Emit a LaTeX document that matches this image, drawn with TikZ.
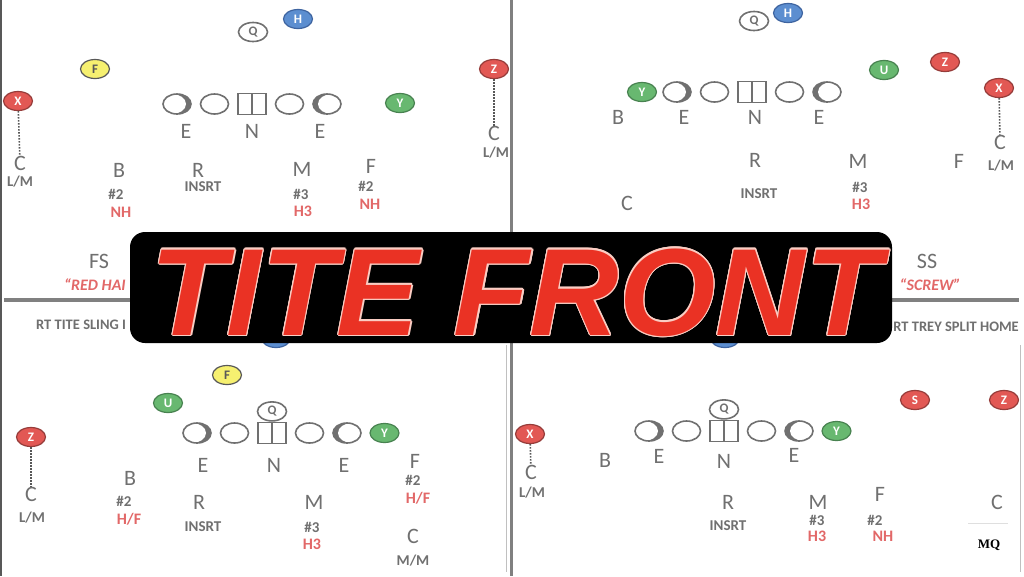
\documentclass[tikz,border=0pt]{standalone}
\usepackage{fontspec}
\setmainfont{Carlito}
\newfontfamily\bannerfont{Liberation Sans}
\newfontfamily\markfont{Liberation Serif}
\usepackage{contour}
\contourlength{1.1pt}
\usetikzlibrary{shapes, arrows}
\usetikzlibrary{positioning}

\definecolor{ink}{RGB}{112,112,112}
\definecolor{rim}{RGB}{88,88,88}
\definecolor{callred}{RGB}{226,104,104}
\definecolor{redfill}{RGB}{226,88,84}
\definecolor{redrim}{RGB}{150,60,58}
\definecolor{greenfill}{RGB}{104,184,112}
\definecolor{greenrim}{RGB}{72,130,80}
\definecolor{bluefill}{RGB}{92,142,208}
\definecolor{bluerim}{RGB}{62,100,160}
\definecolor{yellowfill}{RGB}{246,240,112}
\definecolor{titlered}{RGB}{234,50,36}
\definecolor{titleline}{RGB}{250,205,195}
\definecolor{divider}{RGB}{128,128,128}

\tikzstyle{player} = [ellipse, minimum width = 29, minimum height = 19,
  inner sep = 0, line width = 1.2, text = white,
  font = \bfseries\fontsize{13}{13}\selectfont]
\tikzstyle{pr} = [player, draw = redrim, fill = redfill]
\tikzstyle{pg} = [player, draw = greenrim, fill = greenfill]
\tikzstyle{pb} = [player, draw = bluerim, fill = bluefill]
\tikzstyle{py} = [player, draw = rim, fill = yellowfill, text = rim]
\tikzstyle{qb} = [player, draw = ink, line width = 1.6, text = ink]
\tikzstyle{oval} = [ellipse, draw = ink, line width = 1.6,
  minimum width = 28, minimum height = 20, inner sep = 0]
\tikzstyle{endr} = [oval, path picture = {
  \fill [ink] (path picture bounding box.south west) rectangle
    (path picture bounding box.north east);
  \fill [white] ([xshift = -5pt]path picture bounding box.center)
    ellipse (14pt and 10pt);}]
\tikzstyle{endl} = [oval, path picture = {
  \fill [ink] (path picture bounding box.south west) rectangle
    (path picture bounding box.north east);
  \fill [white] ([xshift = 5pt]path picture bounding box.center)
    ellipse (14pt and 10pt);}]
\tikzstyle{snap} = [rectangle, draw = ink, line width = 1.6,
  minimum width = 28, minimum height = 21, inner sep = 0,
  path picture = {\draw [ink, line width = 1.6]
    (path picture bounding box.north) -- (path picture bounding box.south);}]
\tikzstyle{big} = [text = ink, inner sep = 0,
  font = \fontsize{22}{22}\selectfont]
\tikzstyle{tag} = [text = ink, inner sep = 0,
  font = \bfseries\fontsize{15}{15}\selectfont]
\tikzstyle{call} = [text = callred, inner sep = 0,
  font = \bfseries\fontsize{16}{16}\selectfont]
\tikzstyle{motion} = [draw = rim, line width = 1.6,
  dash pattern = on 1.6 off 1.4]

\begin{document}
\begin{tikzpicture}[x = 1pt, y = -1pt, node distance = 37.5pt]
      \useasboundingbox [fill = white] (0, 0) rectangle (1024, 576);
      % frame
      \draw [rim, line width = 2] (1, 0) -- (1, 576);
      \draw [divider!50, line width = 1] (506, 345) -- (506, 572);
      \draw [divider!50, line width = 1] (1020, 345) -- (1020, 572);
      \draw [divider, line width = 3] (511, 0) -- (511, 576);
      \draw [divider, line width = 4] (4, 300) -- (1019, 300);

      % top left
      \node [qb] (tl-Q) at (253, 32) {Q};
      \node [pb] (tl-H) at (298, 19) {H};
      \node [py] (tl-F) at (95, 69) {F};
      \node [pr] (tl-X) at (18, 101) {X};
      \node [pr] (tl-Z) at (494, 69) {Z};
      \node [pg] (tl-Y) at (400, 103) {Y};
      \node [endr] (tl-lt) at (177, 104) {};
      \node [oval, right of = tl-lt] (tl-lg) {};
      \node [snap, right of = tl-lg] (tl-c) {};
      \node [oval, right of = tl-c] (tl-rg) {};
      \node [endl, right of = tl-rg] (tl-rt) {};
      \node [big] (tl-E1) at (186, 131) {E};
      \node [big] (tl-N) at (252, 131) {N};
      \node [big] (tl-E2) at (320, 131) {E};
      \node [big] (tl-Cx) at (20, 163) {C};
      \node [tag] (tl-Cx-t) at (20, 182) {L/M};
      \node [big] (tl-Cz) at (494, 133) {C};
      \node [tag] (tl-Cz-t) at (496, 153) {L/M};
      \node [big] (tl-B) at (119, 170) {B};
      \node [tag] (tl-B-n) at (116, 194) {\#2};
      \node [call] (tl-B-c) at (121, 212) {NH};
      \node [big] (tl-R) at (198, 170) {R};
      \node [tag] (tl-R-t) at (203, 187) {INSRT};
      \node [big] (tl-M) at (302, 169) {M};
      \node [tag] (tl-M-n) at (301, 194) {\#3};
      \node [call] (tl-M-c) at (303, 211) {H3};
      \node [big] (tl-Fb) at (371, 166) {F};
      \node [tag] (tl-Fb-n) at (366, 186) {\#2};
      \node [call] (tl-Fb-c) at (370, 204) {NH};
      \node [big] (tl-FS) at (99, 261) {FS};
      \node [call, anchor = west, font = \bfseries\itshape\fontsize{16}{16}\selectfont]
        (tl-call) at (64, 285) {``RED HAI};
      \draw [motion] (tl-X) -- (tl-Cx);
      \draw [motion] (tl-Z) -- (tl-Cz);

      % top right
      \node [qb] (tr-Q) at (754, 21) {Q};
      \node [pb] (tr-H) at (788, 13) {H};
      \node [pg] (tr-U) at (884, 70) {U};
      \node [pr] (tr-Z) at (945, 62) {Z};
      \node [pr] (tr-X) at (999, 88) {X};
      \node [pg] (tr-Y) at (642, 92) {Y};
      \node [endr] (tr-lt) at (677, 92) {};
      \node [oval, right of = tr-lt] (tr-lg) {};
      \node [snap, right of = tr-lg] (tr-c) {};
      \node [oval, right of = tr-c] (tr-rg) {};
      \node [endl, right of = tr-rg] (tr-rt) {};
      \node [big] (tr-B) at (618, 117) {B};
      \node [big] (tr-E1) at (684, 117) {E};
      \node [big] (tr-N) at (755, 117) {N};
      \node [big] (tr-E2) at (819, 117) {E};
      \node [big] (tr-R) at (755, 160) {R};
      \node [tag] (tr-R-t) at (759, 194) {INSRT};
      \node [big] (tr-M) at (858, 161) {M};
      \node [tag] (tr-M-n) at (860, 187) {\#3};
      \node [call] (tr-M-c) at (861, 204) {H3};
      \node [big] (tr-Fb) at (959, 161) {F};
      \node [big] (tr-Cx) at (1000, 142) {C};
      \node [tag] (tr-Cx-t) at (1001, 166) {L/M};
      \node [big] (tr-Cb) at (627, 203) {C};
      \node [big] (tr-SS) at (927, 261) {SS};
      \node [call, anchor = east, font = \bfseries\itshape\fontsize{16}{16}\selectfont]
        (tr-call) at (961, 285) {``SCREW''};
      \node [tag, anchor = east, font = \bfseries\fontsize{14.5}{14.5}\selectfont]
        (tr-name) at (1019, 327) {RT TREY SPLIT HOME};
      \draw [motion] (tr-X) -- (tr-Cx);

      % bottom left
      \node [pb] (bl-H) at (276, 338) {};
      \node [py] (bl-F) at (227, 375) {F};
      \node [pg] (bl-U) at (168, 403) {U};
      \node [pr] (bl-Z) at (31, 437) {Z};
      \node [endr] (bl-lt) at (197, 433) {};
      \node [oval, right of = bl-lt] (bl-lg) {};
      \node [snap, right of = bl-lg] (bl-c) {};
      \node [oval, right of = bl-c] (bl-rg) {};
      \node [endl, right of = bl-rg] (bl-rt) {};
      \node [pg, right of = bl-rt] (bl-Y) {Y};
      \node [qb, above = 0 of bl-c] (bl-Q) {Q};
      \node [big] (bl-E1) at (203, 465) {E};
      \node [big] (bl-N) at (274, 465) {N};
      \node [big] (bl-E2) at (344, 465) {E};
      \node [big] (bl-Fb) at (415, 461) {F};
      \node [tag] (bl-Fb-n) at (413, 480) {\#2};
      \node [call] (bl-Fb-c) at (418, 498) {H/F};
      \node [big] (bl-Cz) at (31, 494) {C};
      \node [tag] (bl-Cz-t) at (32, 518) {L/M};
      \node [big] (bl-B) at (130, 478) {B};
      \node [tag] (bl-B-n) at (124, 501) {\#2};
      \node [call] (bl-B-c) at (129, 519) {H/F};
      \node [big] (bl-R) at (199, 502) {R};
      \node [tag] (bl-R-t) at (203, 527) {INSRT};
      \node [big] (bl-M) at (314, 502) {M};
      \node [tag] (bl-M-n) at (312, 527) {\#3};
      \node [call] (bl-M-c) at (312, 544) {H3};
      \node [big] (bl-Cb) at (413, 536) {C};
      \node [tag] (bl-Cb-t) at (413, 561) {M/M};
      \node [tag, anchor = west, font = \bfseries\fontsize{14.5}{14.5}\selectfont]
        (bl-name) at (36, 325) {RT TITE SLING I};
      \draw [motion] (bl-Z) -- (bl-Cz);

      % bottom right
      \node [pb] (br-H) at (725, 338) {};
      \node [pr] (br-S) at (915, 400) {S};
      \node [pr] (br-Z) at (1004, 400) {Z};
      \node [pr] (br-X) at (530, 434) {X};
      \node [endr] (br-lt) at (649, 431) {};
      \node [oval, right of = br-lt] (br-lg) {};
      \node [snap, right of = br-lg] (br-c) {};
      \node [oval, right of = br-c] (br-rg) {};
      \node [endl, right of = br-rg] (br-rt) {};
      \node [pg, right of = br-rt] (br-Y) {Y};
      \node [qb, above = 0 of br-c] (br-Q) {Q};
      \node [big] (br-B) at (605, 460) {B};
      \node [big] (br-E1) at (659, 456) {E};
      \node [big] (br-N) at (724, 461) {N};
      \node [big] (br-E2) at (794, 455) {E};
      \node [big] (br-Cx) at (531, 472) {C};
      \node [tag] (br-Cx-t) at (532, 493) {L/M};
      \node [big] (br-R) at (728, 502) {R};
      \node [tag] (br-R-t) at (728, 526) {INSRT};
      \node [big] (br-M) at (818, 502) {M};
      \node [tag] (br-M-n) at (817, 520) {\#3};
      \node [call] (br-M-c) at (817, 536) {H3};
      \node [big] (br-Fb) at (880, 494) {F};
      \node [tag] (br-Fb-n) at (875, 520) {\#2};
      \node [call] (br-Fb-c) at (883, 536) {NH};
      \node [big] (br-Cb) at (997, 502) {C};
      \node [font = \markfont\bfseries\fontsize{13}{13}\selectfont, inner sep = 0]
        (br-mark) at (989, 545) {MQ};
      \draw [divider!25, line width = 1] (968, 523) -- (1008, 523);
      \draw [motion] (br-X) -- (br-Cx);

      % title
      \node [rectangle, rounded corners = 15, fill = black,
        minimum width = 762, minimum height = 111] (banner) at (511, 287.5) {};
      \node [anchor = base, text = titlered, inner sep = 0,
        font = \bannerfont\bfseries\itshape\fontsize{124}{124}\selectfont]
        (title) at (516, 335) {\contour{titleline}{TITE FRONT}};
    \end{tikzpicture}
\end{document}
